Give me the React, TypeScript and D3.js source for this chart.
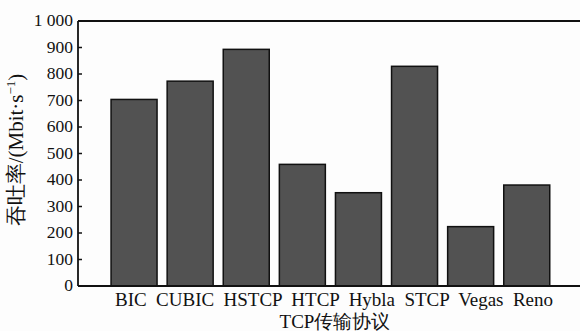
import React from "react";
import * as d3 from "d3";

const categories = ["BIC", "CUBIC", "HSTCP", "HTCP", "Hybla", "STCP", "Vegas", "Reno"];
const throughput = [704, 773, 893, 459, 352, 829, 224, 381];
const yTicks = [0, 100, 200, 300, 400, 500, 600, 700, 800, 900, 1000];
const xTitle = "TCP传输协议";
const yTitle = "吞吐率/(Mbit·s";

const W = 580;
const H = 331;
const X0 = 78;
const Y0 = 286;
const Y1 = 21;
const FONT = "Liberation Serif";

export default function App() {
  const x = d3
    .scaleBand<string>()
    .domain(categories)
    .range([106, 554.8])
    .paddingInner(0.18)
    .paddingOuter(0.09);
  const y = d3.scaleLinear().domain([0, 1000]).range([Y0, Y1]);
  const fmt = (v: number) => (v === 1000 ? "1 000" : String(v));
  const ts = { fontFamily: FONT };
  const labelLine = categories.join("  ");

  return (
    <svg width={W} height={H} style={{ position: "absolute", left: 0, top: 0 }}>
      <rect x={0} y={0} width={W} height={H} fill="#fdfdfd" />
      {categories.map((c, i) => (
        <rect
          key={c}
          x={x(c)!}
          y={y(throughput[i])}
          width={x.bandwidth()}
          height={Y0 - y(throughput[i])}
          fill="#525252"
          stroke="#111"
          strokeWidth={1.5}
        />
      ))}
      <line x1={X0} x2={W} y1={Y1} y2={Y1} stroke="#111" strokeWidth={1.8} />
      <line x1={X0} x2={W} y1={Y0} y2={Y0} stroke="#111" strokeWidth={1.8} />
      <line x1={X0} x2={X0} y1={Y1} y2={Y0} stroke="#111" strokeWidth={1.8} />
      {yTicks.map((t) => (
        <g key={t}>
          <line x1={X0} x2={X0 + 4} y1={y(t)} y2={y(t)} stroke="#111" strokeWidth={1.5} />
          <text x={X0 - 5} y={y(t)} dy="0.3em" textAnchor="end" fontSize={17.5} fill="#111" style={ts}>
            {fmt(t)}
          </text>
        </g>
      ))}
      <text
        x={115}
        y={305.5}
        fontSize={19}
        fill="#111"
        textLength={438}
        lengthAdjust="spacing"
        xmlSpace="preserve"
        style={{ ...ts, whiteSpace: "pre" }}
      >
        {labelLine}
      </text>
      <text x={335} y={328} textAnchor="middle" fontSize={19} fill="#111" style={ts}>
        {xTitle}
      </text>
      <text
        transform={`translate(23,150) rotate(-90)`}
        textAnchor="middle"
        fontSize={21}
        fill="#111"
        style={ts}
      >
        {yTitle}
        <tspan dy={-8} fontSize={13}>−1</tspan>
        <tspan dy={8}>)</tspan>
      </text>
    </svg>
  );
}
